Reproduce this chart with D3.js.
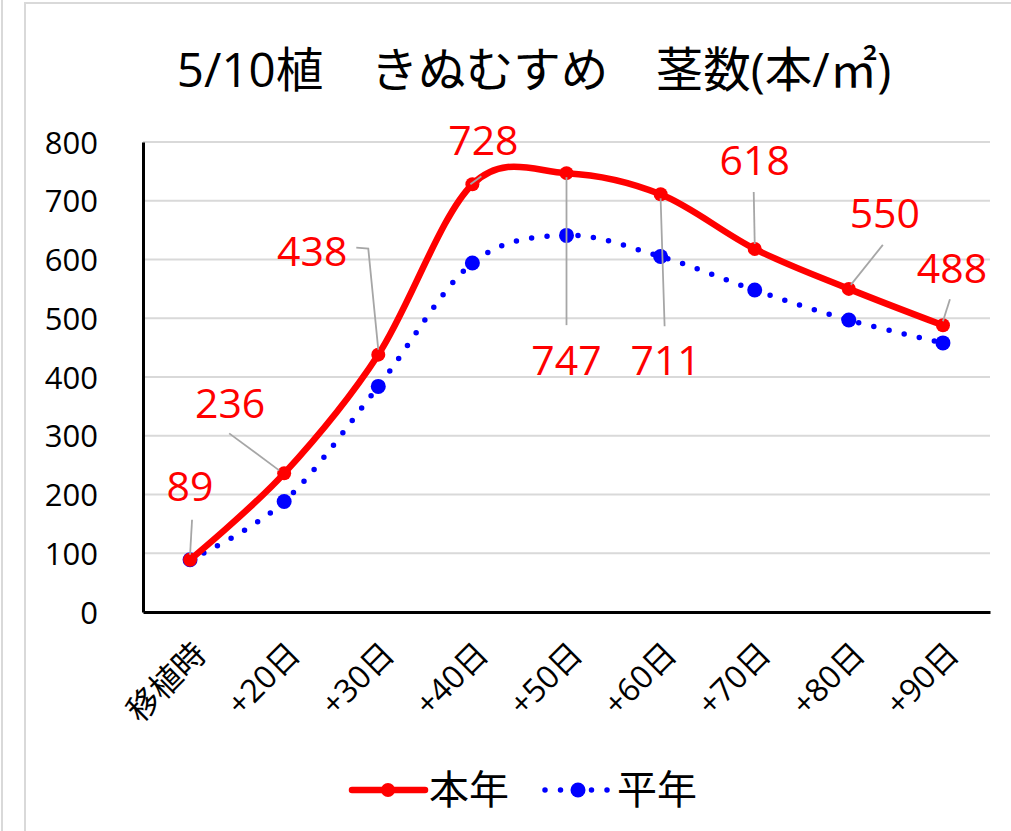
<!DOCTYPE html>
<html>
<head>
<meta charset="utf-8">
<script src="https://cdn.jsdelivr.net/npm/d3@7"></script>
<style>
  body { margin: 0; background: #fff; }
  svg { display: block; }
  text { font-family: "Open Sans", "Noto Sans CJK JP", sans-serif; }
</style>
</head>
<body>
<div class="chart"></div>
<script>
// data
const title = "5/10植\u3000きぬむすめ\u3000茎数(本/㎡)";
const categories = ["移植時", "+20日", "+30日", "+40日", "+50日", "+60日", "+70日", "+80日", "+90日"];
const thisYear = [89, 236, 438, 728, 747, 711, 618, 550, 488];
const normalYear = [89, 188, 384, 594, 641, 605, 548, 497, 458];
const yTicks = [0, 100, 200, 300, 400, 500, 600, 700, 800];
const seriesNames = ["本年", "平年"];

// label placement for the data labels of 本年 (pixel offsets from point)
const labelPos = [
  {dx: 0, dy: -73, lead: [[2, -40], [0, -5]]},
  {dx: -54, dy: -70, lead: [[-55, -40], [-5, -3]]},
  {dx: -66, dy: -103, lead: [[-22, -107], [-10, -106], [0, -5]]},
  {dx: 11, dy: -44, lead: [[9, -8], [-2, 0]]},
  {dx: 0, dy: 187, lead: [[0, 152], [0, 4]]},
  {dx: 5, dy: 166, lead: [[4, 132], [0, 4]]},
  {dx: 0, dy: -89, lead: [[-1, -57], [0, -5]]},
  {dx: 36, dy: -76, lead: [[34, -44], [2, -4]]},
  {dx: 9, dy: -57, lead: [[7, -26], [0, -4]]}
];

const W = 1011, H = 831;
const margin = {top: 142, left: 143, right: 21, bottom: 219};
const width = W - margin.left - margin.right;
const height = H - margin.top - margin.bottom;

const svg = d3.select(".chart").append("svg")
  .attr("width", W)
  .attr("height", H);

// outer frame
svg.append("line").attr("x1", 2).attr("x2", 2).attr("y1", 0).attr("y2", H)
  .attr("stroke", "#d9d9d9").attr("stroke-width", 2);
svg.append("path").attr("d", `M25,${H}V3H${W}`)
  .attr("fill", "none").attr("stroke", "#d9d9d9").attr("stroke-width", 2);

svg.append("text")
  .attr("x", 534).attr("y", 87)
  .attr("text-anchor", "middle")
  .attr("font-size", 47.5)
  .attr("font-family", "'Noto Sans CJK JP', sans-serif")
  .attr("fill", "#000")
  .text(title);

const g = svg.append("g").attr("transform", `translate(${margin.left},${margin.top})`);

const x = d3.scaleBand().domain(categories).range([0, width]).padding(0);
const y = d3.scaleLinear().domain([0, 800]).range([height, 0]);
const cx = d => x(d) + x.bandwidth() / 2;

// gridlines
g.append("g").selectAll("line")
  .data(yTicks.filter(t => t > 0))
  .join("line")
  .attr("x1", 0).attr("x2", width)
  .attr("y1", d => y(d)).attr("y2", d => y(d))
  .attr("stroke", "#d9d9d9").attr("stroke-width", 2);

// y axis
const yAxis = g.append("g")
  .call(d3.axisLeft(y).tickValues(yTicks).tickSize(0).tickPadding(45));
yAxis.select(".domain").attr("stroke", "#000").attr("stroke-width", 3);
yAxis.selectAll("text").attr("font-size", 31).attr("fill", "#000").attr("dy", "0.36em");

// x axis
const xAxis = g.append("g")
  .attr("transform", `translate(0,${height})`)
  .call(d3.axisBottom(x).tickSize(0).tickPadding(0));
xAxis.select(".domain").attr("stroke", "#000").attr("stroke-width", 3);
xAxis.selectAll("text")
  .attr("font-size", 32)
  .attr("font-family", "'Noto Sans CJK JP', sans-serif")
  .attr("fill", "#000")
  .attr("text-anchor", "end")
  .attr("dy", 0)
  .attr("transform", "translate(18,44) rotate(-45)");

// smoothed lines, like the spreadsheet's smooth option
const smooth = d3.line()
  .x((d, i) => cx(categories[i]))
  .y(d => y(d))
  .curve(d3.curveCatmullRom.alpha(0));

// 平年 dotted line
g.append("path")
  .datum(normalYear)
  .attr("d", smooth)
  .attr("fill", "none")
  .attr("stroke", "#0000ff")
  .attr("stroke-width", 5.5)
  .attr("stroke-linecap", "round")
  .attr("stroke-dasharray", "0 15.5");
g.append("g").selectAll("circle")
  .data(normalYear)
  .join("circle")
  .attr("cx", (d, i) => cx(categories[i]))
  .attr("cy", d => y(d))
  .attr("r", 7.5)
  .attr("fill", "#0000ff");

// 本年 solid line
g.append("path")
  .datum(thisYear)
  .attr("d", smooth)
  .attr("fill", "none")
  .attr("stroke", "#ff0000")
  .attr("stroke-width", 6.5)
  .attr("stroke-linejoin", "round");
g.append("g").selectAll("circle")
  .data(thisYear)
  .join("circle")
  .attr("cx", (d, i) => cx(categories[i]))
  .attr("cy", d => y(d))
  .attr("r", 7)
  .attr("fill", "#ff0000");

// leader lines + data labels
const labels = g.append("g");
thisYear.forEach((v, i) => {
  const px = cx(categories[i]), py = y(v), p = labelPos[i];
  labels.append("path")
    .attr("d", d3.line()(p.lead.map(q => [px + q[0], py + q[1]])))
    .attr("fill", "none")
    .attr("stroke", "#a6a6a6")
    .attr("stroke-width", 1.8);
  labels.append("text")
    .attr("x", px + p.dx)
    .attr("y", py + p.dy)
    .attr("text-anchor", "middle")
    .attr("dy", "0.36em")
    .attr("font-size", 41)
    .attr("fill", "#ff0000")
    .text(v);
});

// legend
const lg = svg.append("g").attr("transform", "translate(0,790)");
lg.append("line").attr("x1", 352).attr("x2", 425).attr("y1", 0).attr("y2", 0)
  .attr("stroke", "#ff0000").attr("stroke-width", 6.5).attr("stroke-linecap", "round");
lg.append("circle").attr("cx", 388).attr("cy", 0).attr("r", 7).attr("fill", "#ff0000");
lg.append("text").attr("x", 429).attr("y", 0).attr("dy", "0.36em")
  .attr("font-size", 40).attr("font-family", "'Noto Sans CJK JP', sans-serif")
  .text(seriesNames[0]);
lg.append("line").attr("x1", 545).attr("x2", 612).attr("y1", 0).attr("y2", 0)
  .attr("stroke", "#0000ff").attr("stroke-width", 5.5).attr("stroke-linecap", "round")
  .attr("stroke-dasharray", "0 15.5");
lg.append("circle").attr("cx", 578).attr("cy", 0).attr("r", 7.5).attr("fill", "#0000ff");
lg.append("text").attr("x", 617).attr("y", 0).attr("dy", "0.36em")
  .attr("font-size", 40).attr("font-family", "'Noto Sans CJK JP', sans-serif")
  .text(seriesNames[1]);
</script>
</body>
</html>
